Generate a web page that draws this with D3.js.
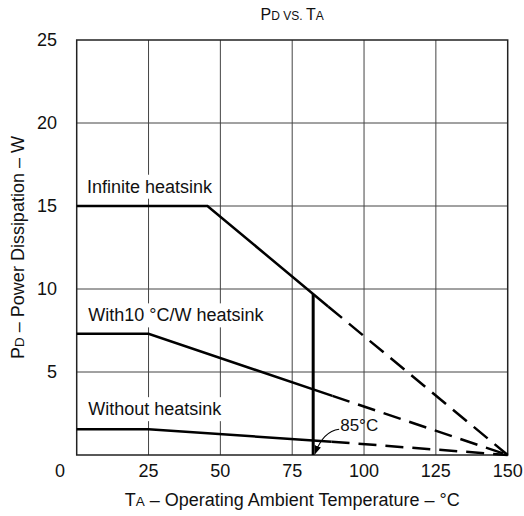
<!DOCTYPE html>
<html>
<head>
<meta charset="utf-8">
<script src="https://cdn.jsdelivr.net/npm/d3@7"></script>
<style>
  html, body { margin: 0; padding: 0; background: #fff; }
  svg { display: block; font-family: "Liberation Sans", Arial, Helvetica, sans-serif; }
</style>
</head>
<body>
<svg id="chart" width="524" height="516"></svg>
<script>
// ---- data ----
const xTicks = [25, 50, 75, 100, 125, 150];
const yTicks = [5, 10, 15, 20, 25];
const xGrid = [25, 50, 75, 100, 125];
const yGrid = [5, 10, 15, 20];

// Infinite heatsink
const infSolidT = [0, 45.5, 87.5];
const infSolidP = [15, 15, 8.95];
const infDashT = [87.5, 150];
const infDashP = [8.95, 0];
// With 10 °C/W heatsink
const hs10SolidT = [0, 25, 89];
const hs10SolidP = [7.3, 7.3, 3.56];
const hs10DashT = [89, 150];
const hs10DashP = [3.56, 0];
// Without heatsink
const noSolidT = [0, 25, 88.7];
const noSolidP = [1.55, 1.55, 0.8];
const noDashT = [88.7, 150];
const noDashP = [0.8, 0];

// 85 °C limit marker
const limitT = 82.3;
const limitP = [0, 9.7];

// labels: text, T, P (baseline-left anchor)
const labelText = ["Infinite heatsink", "With10 °C/W heatsink", "Without heatsink"];
const labelT = [3.6, 4.0, 4.0];
const labelP = [15.8, 8.05, 2.4];

// ---- layout ----
const svg = d3.select("#chart");
const x = d3.scaleLinear().domain([0, 150]).range([76.7, 507.7]);
const y = d3.scaleLinear().domain([0, 25]).range([455, 40]);
const line = d3.line().x(d => x(d[0])).y(d => y(d[1]));
const zip = (a, b) => a.map((v, i) => [v, b[i]]);

// gridlines
svg.append("g").selectAll("line").data(xGrid).join("line")
  .attr("x1", d => x(d)).attr("x2", d => x(d))
  .attr("y1", y(0)).attr("y2", y(25))
  .attr("stroke", "#444").attr("stroke-width", 1);
svg.append("g").selectAll("line").data(yGrid).join("line")
  .attr("x1", x(0)).attr("x2", x(150))
  .attr("y1", d => y(d)).attr("y2", d => y(d))
  .attr("stroke", "#444").attr("stroke-width", 1);

// label backgrounds + labels
const lg = svg.append("g");
labelText.forEach((t, i) => {
  const tx = lg.append("text")
    .attr("x", x(labelT[i])).attr("y", y(labelP[i]))
    .attr("font-size", 18).attr("fill", "#111").text(t);
  const bb = tx.node().getBBox();
  lg.insert("rect", "text")
    .attr("x", bb.x - 3).attr("y", bb.y - 2)
    .attr("width", bb.width + 6).attr("height", bb.height + 4)
    .attr("fill", "#fff");
});

// frame
svg.append("rect")
  .attr("x", x(0)).attr("y", y(25))
  .attr("width", x(150) - x(0)).attr("height", y(0) - y(25))
  .attr("fill", "none").attr("stroke", "#222").attr("stroke-width", 1.5);

// curves
const solids = [zip(infSolidT, infSolidP), zip(hs10SolidT, hs10SolidP), zip(noSolidT, noSolidP)];
const dashes = [zip(infDashT, infDashP), zip(hs10DashT, hs10DashP), zip(noDashT, noDashP)];
svg.append("g").selectAll("path").data(solids).join("path")
  .attr("d", line).attr("fill", "none").attr("stroke", "#000").attr("stroke-width", 2.5);
svg.append("g").selectAll("path").data(dashes).join("path")
  .attr("d", line).attr("fill", "none").attr("stroke", "#000").attr("stroke-width", 2.5)
  .attr("stroke-dasharray", "18,9");

// 85°C vertical
svg.append("line")
  .attr("x1", x(limitT)).attr("x2", x(limitT))
  .attr("y1", y(limitP[0])).attr("y2", y(limitP[1]))
  .attr("stroke", "#000").attr("stroke-width", 3);

// arrow + annotation
svg.append("defs").append("marker")
  .attr("id", "arr").attr("viewBox", "0 0 10 10").attr("refX", 9).attr("refY", 5)
  .attr("markerWidth", 7).attr("markerHeight", 7).attr("orient", "auto")
  .append("path").attr("d", "M0,1 L10,5 L0,9 Z").attr("fill", "#000");
const ax0 = x(limitT) + 26, ay0 = y(1.55);
const ax1 = x(limitT) + 2, ay1 = y(0.1);
svg.append("path")
  .attr("d", `M${ax0},${ay0} Q${ax0 - 16},${ay0 + 2} ${ax1},${ay1}`)
  .attr("fill", "none").attr("stroke", "#000").attr("stroke-width", 1.2)
  .attr("marker-end", "url(#arr)");
svg.append("text")
  .attr("x", ax0 + 1).attr("y", y(1.45))
  .attr("font-size", 17).attr("fill", "#111").text("85°C");

// tick labels
svg.append("g").selectAll("text").data(xTicks).join("text")
  .attr("x", d => x(d)).attr("y", 477)
  .attr("text-anchor", "middle").attr("font-size", 18).attr("fill", "#111")
  .text(d => d);
svg.append("g").selectAll("text").data(yTicks).join("text")
  .attr("x", 57).attr("y", d => y(d) + 6)
  .attr("text-anchor", "end").attr("font-size", 18).attr("fill", "#111")
  .text(d => d);
svg.append("text").attr("x", 60).attr("y", 477)
  .attr("text-anchor", "middle").attr("font-size", 18).attr("fill", "#111").text("0");

// title
const title = svg.append("text").attr("x", x(75)).attr("y", 20)
  .attr("text-anchor", "middle").attr("fill", "#111");
title.append("tspan").attr("font-size", 16).text("P");
title.append("tspan").attr("font-size", 12).text("D VS. ");
title.append("tspan").attr("font-size", 16).text("T");
title.append("tspan").attr("font-size", 12).text("A");

// x axis title
const xt = svg.append("text").attr("x", x(75)).attr("y", 506)
  .attr("text-anchor", "middle").attr("fill", "#111").attr("font-size", 18);
xt.append("tspan").text("T");
xt.append("tspan").attr("font-size", 13.5).text("A");
xt.append("tspan").text(" – Operating Ambient Temperature – °C");

// y axis title
const yt = svg.append("text")
  .attr("transform", `translate(24,${(y(0) + y(25)) / 2}) rotate(-90)`)
  .attr("text-anchor", "middle").attr("fill", "#111").attr("font-size", 18);
yt.append("tspan").text("P");
yt.append("tspan").attr("font-size", 13.5).text("D");
yt.append("tspan").text(" – Power Dissipation – W");
</script>
</body>
</html>
